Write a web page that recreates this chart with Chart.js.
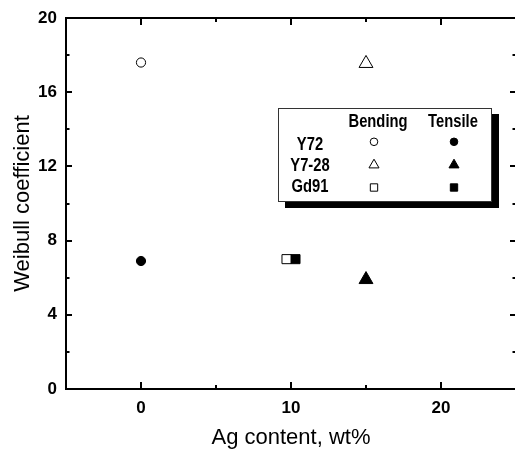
<!DOCTYPE html>
<html>
<head>
<meta charset="utf-8">
<style>
  html, body { margin: 0; padding: 0; overflow: hidden; background: #fff; }
  canvas { display: block; }
</style>
<script src="https://cdn.jsdelivr.net/npm/chart.js@4.4.1/dist/chart.umd.min.js"></script>
</head>
<body>
<canvas id="weibull" width="518" height="455"></canvas>
<script>
// Weibull coefficient of each alloy, by Ag content and test type
const alloys = ['Y72', 'Y7-28', 'Gd91'];
const markerStyles = ['circle', 'triangle', 'rect'];
const bendingAg = [0, 15, 9.7];
const bendingWeibull = [17.6, 17.55, 7.0];
const tensileAg = [0, 15, 10.3];
const tensileWeibull = [6.9, 5.9, 7.0];
const testTypes = ['Bending', 'Tensile'];

// axis ticks
const xMajorTicks = [0, 10, 20];
const xMinorTicks = [5, 15];
const yMajorTicks = [0, 4, 8, 12, 16, 20];
const yMinorTicks = [2, 6, 10, 14, 18];

const SANS = "'Liberation Sans', Arial, sans-serif";

const markerRadius = { circle: 4.6, triangle: 8, rect: 6.4 };
const legendRadius = { circle: 3.8, triangle: 5.8, rect: 5.2 };

const datasets = [];
alloys.forEach((name, i) => {
  const style = markerStyles[i];
  datasets.push({
    label: name + ' ' + testTypes[0],
    data: [{ x: bendingAg[i], y: bendingWeibull[i] }],
    pointStyle: style,
    pointRadius: markerRadius[style],
    backgroundColor: '#fff',
    borderColor: '#000',
    borderWidth: 1
  });
  datasets.push({
    label: name + ' ' + testTypes[1],
    data: [{ x: tensileAg[i], y: tensileWeibull[i] }],
    pointStyle: style,
    pointRadius: markerRadius[style],
    backgroundColor: '#000',
    borderColor: '#000',
    borderWidth: 1
  });
});

// inward tick marks on all four sides of the frame
const innerTicks = {
  id: 'innerTicks',
  beforeDatasetsDraw(chart) {
    const { ctx, chartArea: a, scales: { x, y } } = chart;
    ctx.save();
    ctx.strokeStyle = '#000';
    const vertical = (vals, len, w) => {
      ctx.lineWidth = w;
      vals.forEach(v => {
        const px = Math.round(x.getPixelForValue(v));
        ctx.beginPath();
        ctx.moveTo(px, a.bottom); ctx.lineTo(px, a.bottom - len);
        ctx.moveTo(px, a.top); ctx.lineTo(px, a.top + len);
        ctx.stroke();
      });
    };
    const horizontal = (vals, len, w) => {
      ctx.lineWidth = w;
      vals.forEach(v => {
        const py = Math.round(y.getPixelForValue(v));
        ctx.beginPath();
        ctx.moveTo(a.left, py); ctx.lineTo(a.left + len, py);
        ctx.moveTo(a.right, py); ctx.lineTo(a.right - len, py);
        ctx.stroke();
      });
    };
    vertical(xMajorTicks, 7, 2);
    vertical(xMinorTicks, 4, 2);
    horizontal(yMajorTicks, 6, 2);
    horizontal(yMinorTicks, 3.5, 2);
    ctx.restore();
  }
};

function drawMarker(ctx, style, cx, cy, r, filled) {
  ctx.beginPath();
  if (style === 'circle') {
    ctx.arc(cx, cy, r, 0, Math.PI * 2);
  } else if (style === 'triangle') {
    ctx.moveTo(cx, cy - r);
    ctx.lineTo(cx + 0.866 * r, cy + 0.5 * r);
    ctx.lineTo(cx - 0.866 * r, cy + 0.5 * r);
    ctx.closePath();
  } else {
    const h = r * Math.SQRT1_2;
    ctx.rect(cx - h, cy - h, 2 * h, 2 * h);
  }
  ctx.fillStyle = filled ? '#000' : '#fff';
  ctx.fill();
  ctx.lineWidth = 1;
  ctx.strokeStyle = '#000';
  ctx.stroke();
}

// condensed bold text, centred on (x, y)
function narrowText(ctx, text, x, y) {
  ctx.save();
  ctx.translate(x, y);
  ctx.scale(0.82, 1);
  ctx.fillText(text, 0, 0);
  ctx.restore();
}

// boxed key with a drop shadow: alloy rows, test-type columns
const keyTable = {
  id: 'keyTable',
  afterDraw(chart) {
    const { ctx, chartArea: a } = chart;
    const w = 214, h = 94;
    const left = a.right - 24 - w;
    const top = a.top + 90;
    ctx.save();
    ctx.fillStyle = '#000';
    ctx.fillRect(left + 7, top + 6, w, h);
    ctx.fillStyle = '#fff';
    ctx.fillRect(left, top, w, h);
    ctx.strokeStyle = '#333';
    ctx.lineWidth = 1;
    ctx.strokeRect(left + 0.5, top + 0.5, w - 1, h - 1);

    ctx.fillStyle = '#000';
    ctx.font = "bold 18px " + SANS;
    ctx.textAlign = 'center';
    ctx.textBaseline = 'middle';
    const colX = [96, 176];
    const headerX = [100, 175];
    testTypes.forEach((t, j) => narrowText(ctx, t, left + headerX[j], top + 14));
    const textY = [37, 58.5, 79.5];
    const markY = [33.8, 57, 79.5];
    alloys.forEach((name, i) => {
      ctx.fillStyle = '#000';
      narrowText(ctx, name, left + 32, top + textY[i]);
      const style = markerStyles[i];
      drawMarker(ctx, style, left + colX[0], top + markY[i], legendRadius[style], false);
      drawMarker(ctx, style, left + colX[1], top + markY[i], legendRadius[style], true);
    });
    ctx.restore();
  }
};

const frameBorder = { display: true, color: '#000', width: 2 };
const noPadding = s => { s.paddingLeft = s.paddingRight = s.paddingTop = s.paddingBottom = 0; };
const tickFont = { family: SANS, size: 17, weight: 'bold' };

new Chart(document.getElementById('weibull'), {
  type: 'scatter',
  data: { datasets },
  options: {
    responsive: false,
    animation: false,
    events: [],
    layout: { padding: 0, autoPadding: false },
    plugins: { legend: { display: false }, tooltip: { enabled: false } },
    scales: {
      x: {
        type: 'linear', position: 'bottom', min: -5, max: 25,
        afterBuildTicks: s => { s.ticks = xMajorTicks.map(v => ({ value: v })); },
        afterFit: s => { s.height = 66; noPadding(s); },
        grid: { display: false, drawTicks: false },
        border: frameBorder,
        ticks: { color: '#000', padding: 9, maxRotation: 0, autoSkip: false, font: tickFont },
        title: { display: true, text: 'Ag content, wt%', color: '#000',
                 font: { family: SANS, size: 22 }, padding: { top: 0, bottom: 4 } }
      },
      y: {
        type: 'linear', position: 'left', min: 0, max: 20,
        afterBuildTicks: s => { s.ticks = yMajorTicks.map(v => ({ value: v })); },
        afterFit: s => { s.width = 66; noPadding(s); },
        grid: { display: false, drawTicks: false },
        border: frameBorder,
        ticks: { color: '#000', padding: 9, autoSkip: false, font: tickFont },
        title: { display: true, text: 'Weibull coefficient', color: '#000',
                 font: { family: SANS, size: 22 }, padding: { top: 10, bottom: 0 } }
      },
      x2: {
        type: 'linear', position: 'top', min: -5, max: 25,
        afterFit: s => { s.height = 18; noPadding(s); },
        grid: { display: false, drawTicks: false },
        border: frameBorder,
        ticks: { display: false }
      },
      y2: {
        type: 'linear', position: 'right', min: 0, max: 20,
        afterFit: s => { s.width = 2; noPadding(s); },
        grid: { display: false, drawTicks: false },
        border: frameBorder,
        ticks: { display: false }
      }
    }
  },
  plugins: [innerTicks, keyTable]
});
</script>
</body>
</html>
